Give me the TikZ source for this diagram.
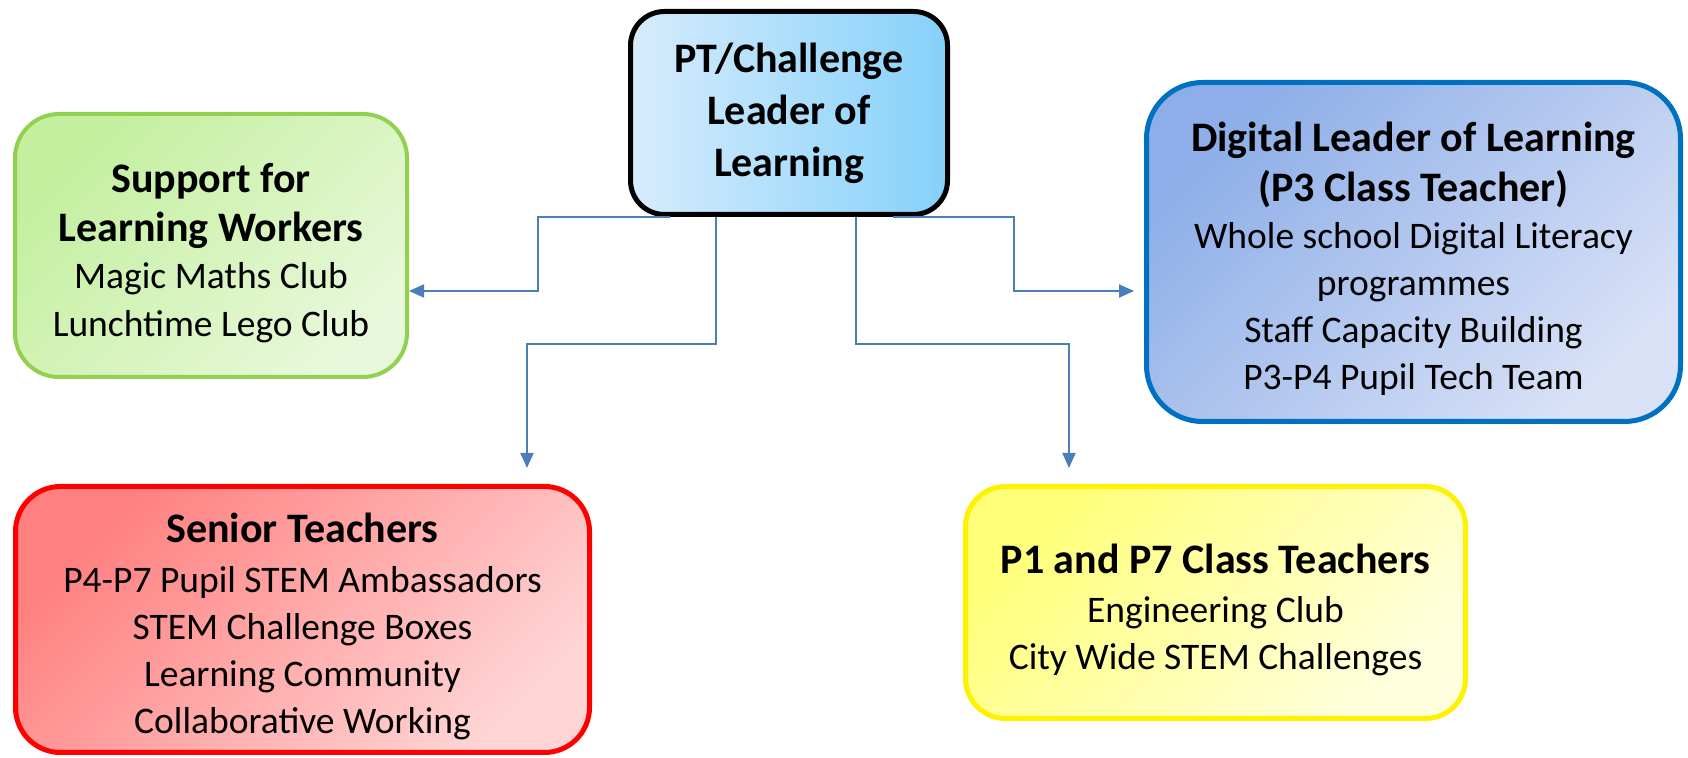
\documentclass[tikz,border=0pt]{standalone}
\usepackage{fontspec}
\setmainfont{Carlito}
\usetikzlibrary{arrows.meta}

\definecolor{linkblue}{HTML}{4A7EBB}
\definecolor{leadL}{HTML}{D7ECFC}
\definecolor{leadR}{HTML}{85D1FA}
\definecolor{greenA}{HTML}{C3EF9E}
\definecolor{greenB}{HTML}{E8F8DA}
\definecolor{greenE}{HTML}{92D050}
\definecolor{blueA}{HTML}{8DAEE8}
\definecolor{blueB}{HTML}{D8E1F6}
\definecolor{blueE}{HTML}{0070C0}
\definecolor{redA}{HTML}{FF8080}
\definecolor{redB}{HTML}{FFD4D4}
\definecolor{yellowA}{HTML}{FFFF78}
\definecolor{yellowB}{HTML}{FFFFDE}

\newcommand\leadfnt{\fontsize{21}{26}\selectfont\bfseries}
\newcommand\titlefnt{\fontsize{21}{25}\selectfont\bfseries}
\newcommand\itemfnt{\fontsize{18.75}{23.6}\selectfont}
\newcommand\topgap{\rule{0pt}{22pt}}

\begin{document}
\begin{tikzpicture}[x=0.5pt,y=-0.5pt,
        role/.style={draw, align=center, inner sep=0pt, line width=2.5pt, font=\itemfnt},
        grad/.style 2 args={top color=#1, bottom color=#2, shading angle=45},
        link/.style={draw=linkblue, line width=1pt, -{Triangle[length=7.5pt,width=6.5pt]}}]
    \useasboundingbox (0,0) rectangle (1688,758);

    % boxes
    \node [role, rounded corners=17pt, left color=leadL, right color=leadR,
           minimum width=158.5pt, minimum height=101.5pt, font=\leadfnt] (lead) at (789,113)
          {PT/Challenge\\Leader of\\Learning};

    \node [role, draw=greenE, line width=2pt, rounded corners=22pt, grad={greenA}{greenB},
           minimum width=196pt, minimum height=131.5pt] (sfl) at (211,245.5)
          {{\titlefnt\topgap Support for}\\[1pt]{\titlefnt Learning Workers}\\Magic Maths Club\\Lunchtime Lego Club};

    \node [role, draw=blueE, rounded corners=28pt, grad={blueA}{blueB},
           minimum width=267pt, minimum height=169.5pt] (digital) at (1413.5,252)
          {{\titlefnt\topgap Digital Leader of Learning}\\[1pt]{\titlefnt (P3 Class Teacher)}\\Whole school Digital Literacy\\programmes\\Staff Capacity Building\\P3-P4 Pupil Tech Team};

    \node [role, draw=red, rounded corners=22.5pt, grad={redA}{redB},
           minimum width=287pt, minimum height=133pt] (senior) at (302.5,619.5)
          {{\titlefnt\topgap Senior Teachers}\\[1pt]P4-P7 Pupil STEM Ambassadors\\STEM Challenge Boxes\\Learning Community\\Collaborative Working};

    \node [role, draw=yellow, rounded corners=20pt, grad={yellowA}{yellowB},
           minimum width=250pt, minimum height=116pt] (p1p7) at (1215.5,602.5)
          {{\titlefnt\topgap P1 and P7 Class Teachers}\\[1pt]Engineering Club\\City Wide STEM Challenges};

    % elbows
    \coordinate (kL)  at (538,291);
    \coordinate (kR)  at (1014,291);
    \coordinate (kSL) at (527,344);
    \coordinate (kSR) at (1069,344);

    % links
    \draw[link] ([xshift=-59.5pt]lead.south) -| (kL) -- (kL -| sfl.east);
    \draw[link, shorten >=5pt] ([xshift=52pt]lead.south) -| (kR) -- (kR -| digital.west);
    \draw[link, shorten >=8pt] ([xshift=-36.5pt]lead.south) |- (kSL) -- (kSL |- senior.north);
    \draw[link, shorten >=8pt] ([xshift=33.5pt]lead.south) |- (kSR) -- (kSR |- p1p7.north);

\end{tikzpicture}
\end{document}
